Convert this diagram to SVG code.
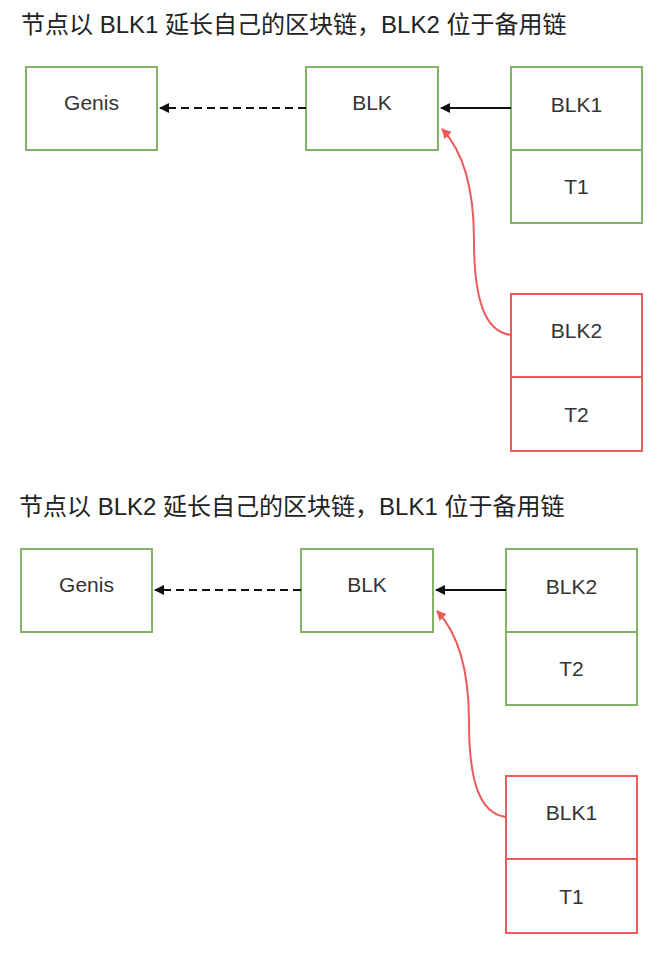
<svg xmlns="http://www.w3.org/2000/svg" width="660" height="954" viewBox="0 0 660 954">
<style>
.bg{fill:#ffffff}
.g{fill:#ffffff;stroke:#82b366;stroke-width:2}
.r{fill:#ffffff;stroke:#ee5a5a;stroke-width:2}
.t{font-family:"Liberation Sans","Noto Sans CJK SC",sans-serif;font-size:21px;fill:#333333;text-anchor:middle}
.h{font-family:"Liberation Sans","Noto Sans CJK SC",sans-serif;font-size:24px;fill:#222222}
.e{fill:none;stroke:#111111;stroke-width:2}
.d{fill:none;stroke:#111111;stroke-width:2;stroke-dasharray:8 5}
.c{fill:none;stroke:#ee5a5a;stroke-width:2}
</style>
<defs>
<marker id="ab" viewBox="0 0 10 10" refX="9" refY="5" markerWidth="5" markerHeight="5" orient="auto" markerUnits="strokeWidth"><path d="M0,0 L10,5 L0,10 z" fill="#111111"/></marker>
<marker id="ar" viewBox="0 0 10 10" refX="9" refY="5" markerWidth="5" markerHeight="5" orient="auto" markerUnits="strokeWidth"><path d="M0,0 L10,5 L0,10 z" fill="#ee5a5a"/></marker>
</defs>
<rect class="bg" x="0" y="0" width="660" height="954"/>

<g id="section1">
<text id="title1" class="h" x="21" y="33">节点以 BLK1 延长自己的区块链，BLK2 位于备用链</text>
<g id="genis1"><rect class="g" x="26" y="67" width="131" height="83"/><text class="t" x="91.5" y="110">Genis</text></g>
<g id="blk1main"><rect class="g" x="306" y="67" width="132" height="83"/><text class="t" x="372" y="110">BLK</text></g>
<g id="blk1"><rect class="g" x="511" y="67" width="131" height="83"/><text class="t" x="576.5" y="112">BLK1</text></g>
<g id="t1"><rect class="g" x="511" y="150" width="131" height="73"/><text class="t" x="576.5" y="194">T1</text></g>
<g id="blk2alt"><rect class="r" x="511" y="294" width="131" height="83"/><text class="t" x="576.5" y="338">BLK2</text></g>
<g id="t2alt"><rect class="r" x="511" y="377" width="131" height="74"/><text class="t" x="576.5" y="422">T2</text></g>
<g id="edges1">
<path class="d" d="M306,108 L160,108" marker-end="url(#ab)"/>
<path class="e" d="M511,108 L441,108" marker-end="url(#ab)"/>
<path class="c" d="M511,335 C485,332 474,300 474,240 C474,185 462,150 442,129" marker-end="url(#ar)"/>
</g>
</g>

<g id="section2">
<text id="title2" class="h" x="19" y="515">节点以 BLK2 延长自己的区块链，BLK1 位于备用链</text>
<g transform="translate(-5,482)">
<g id="genis2"><rect class="g" x="26" y="67" width="131" height="83"/><text class="t" x="91.5" y="110">Genis</text></g>
<g id="blk2main"><rect class="g" x="306" y="67" width="132" height="83"/><text class="t" x="372" y="110">BLK</text></g>
<g id="blk2"><rect class="g" x="511" y="67" width="131" height="83"/><text class="t" x="576.5" y="112">BLK2</text></g>
<g id="t2"><rect class="g" x="511" y="150" width="131" height="73"/><text class="t" x="576.5" y="194">T2</text></g>
<g id="blk1alt"><rect class="r" x="511" y="294" width="131" height="83"/><text class="t" x="576.5" y="338">BLK1</text></g>
<g id="t1alt"><rect class="r" x="511" y="377" width="131" height="74"/><text class="t" x="576.5" y="422">T1</text></g>
<g id="edges2">
<path class="d" d="M306,108 L160,108" marker-end="url(#ab)"/>
<path class="e" d="M511,108 L441,108" marker-end="url(#ab)"/>
<path class="c" d="M511,335 C485,332 474,300 474,240 C474,185 462,150 442,129" marker-end="url(#ar)"/>
</g>
</g>
</g>
</svg>
